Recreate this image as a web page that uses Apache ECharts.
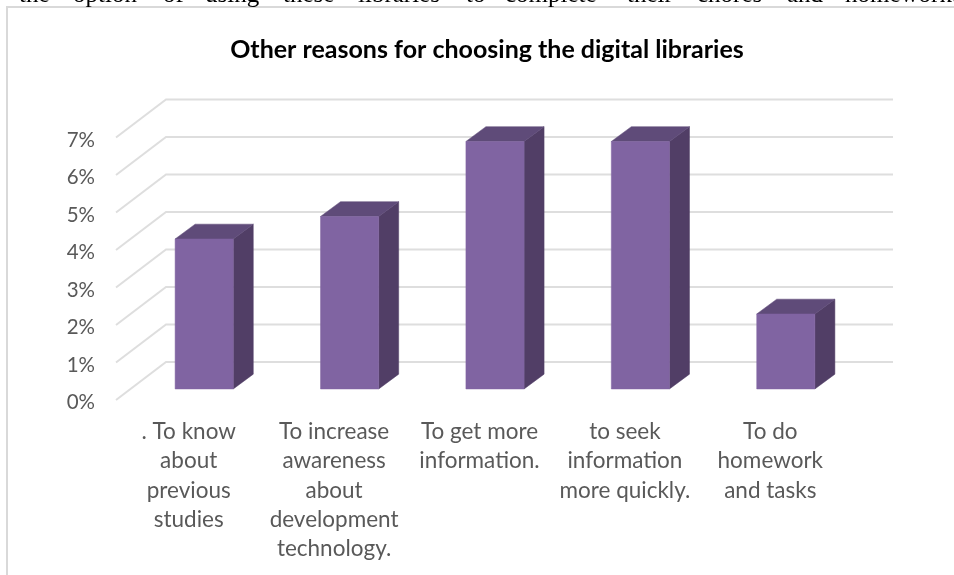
<!DOCTYPE html>
<html><head><meta charset="utf-8">
<style>html,body{margin:0;padding:0;background:#fff}#c{width:954px;height:575px}</style>
<script src="https://cdn.jsdelivr.net/npm/echarts@6/dist/echarts.min.js"></script>
</head><body><div id="c"></div>
<script>
const categories = [". To know\nabout\nprevious\nstudies","To increase\nawareness\nabout\ndevelopment\ntechnology.","To get more\ninformation.","to seek\ninformation\nmore quickly.","To do\nhomework\nand tasks"];
const values = [4.0,4.6,6.6,6.6,2.0];
const ticks = [0,1,2,3,4,5,6,7];
const titleText = "Other reasons for choosing the digital libraries";
const topWords = [["the",19],["option",73],["of",163],["using",205],["these",283],["libraries",358],["to",466],["complete",505],["their",627],["chores",697],["and",787],["homework.",845]];
const FRONT="#8064A2", SIDE="#513E66", TOP="#5F4B79", GRID="#DEDEDE", TEXT="#595959";
const FONT="Lato";
const DX=50/145.4, DY=38/37.5;

const chart = echarts.init(document.getElementById('c'),null,{renderer:'canvas'});
chart.setOption({
  animation:false,
  backgroundColor:'#fff',
  title:{text:titleText,left:482,top:32,textAlign:'center',textStyle:{fontFamily:FONT,fontWeight:'bold',fontSize:25,color:'#000'}},
  grid:{left:116,right:111,top:137.5,bottom:175,containLabel:false},
  xAxis:{type:'category',data:categories,axisLine:{show:false},axisTick:{show:false},
    axisLabel:{interval:0,color:TEXT,fontFamily:FONT,fontSize:22.5,lineHeight:29.3,margin:17,verticalAlign:'top'}},
  yAxis:{type:'value',min:0,max:7,interval:1,axisLine:{show:false},axisTick:{show:false},splitLine:{show:false},
    axisLabel:{formatter:'{a|{value}%}',margin:21,
      rich:{a:{color:TEXT,fontFamily:FONT,fontSize:20.5,padding:[5,0,0,0]}}}},
  series:[
    {type:'custom',silent:true,z:1,data:ticks.map(t=>[0,t]),encode:{x:0,y:1},
     renderItem(p,api){
       const band=api.size([1,0])[0], unit=api.size([0,1])[1];
       const c=api.coord([0,api.value(1)]), end=api.coord([categories.length-1,api.value(1)]);
       const x0=c[0]-band/2, y0=c[1], dx=band*DX, dy=unit*DY;
       return {type:'polyline',shape:{points:[[x0,y0],[x0+dx,y0-dy],[end[0]+band/2+dx,y0-dy]]},
               style:{stroke:GRID,lineWidth:2,fill:null}};
     }},
    {type:'custom',silent:true,z:2,data:values.map((v,i)=>[i,v]),encode:{x:0,y:1},
     renderItem(p,api){
       const band=api.size([1,0])[0], unit=api.size([0,1])[1];
       const top=api.coord([api.value(0),api.value(1)]), base=api.coord([api.value(0),0]);
       const w=band*0.4, ox=band*DX*0.31, oy=unit*DY*0.29, dx=band*DX*0.4, dy=unit*DY*0.39;
       const l=top[0]-w/2+ox, r=l+w, t=top[1]-oy, b=base[1]-oy;
       const poly=(pts,fill)=>({type:'polygon',shape:{points:pts},style:{fill,stroke:fill,lineWidth:0.5}});
       return {type:'group',children:[
         poly([[r,t],[r+dx,t-dy],[r+dx,b-dy],[r,b]],SIDE),
         poly([[l,t],[l+dx,t-dy],[r+dx,t-dy],[r,t]],TOP),
         poly([[l,t],[r,t],[r,b],[l,b]],FRONT)
       ]};
     }}
  ],
  graphic:[
    {type:'rect',silent:true,z:0,shape:{x:7,y:7,width:1000,height:640},style:{fill:'#fff',stroke:'#D9D9D9',lineWidth:2}},
    ...topWords.map(w=>({type:'text',silent:true,x:w[1],y:8,style:{text:w[0],fontFamily:'Liberation Serif',fontSize:25,fill:'#000',textVerticalAlign:'bottom'}}))
  ]
});
</script></body></html>
